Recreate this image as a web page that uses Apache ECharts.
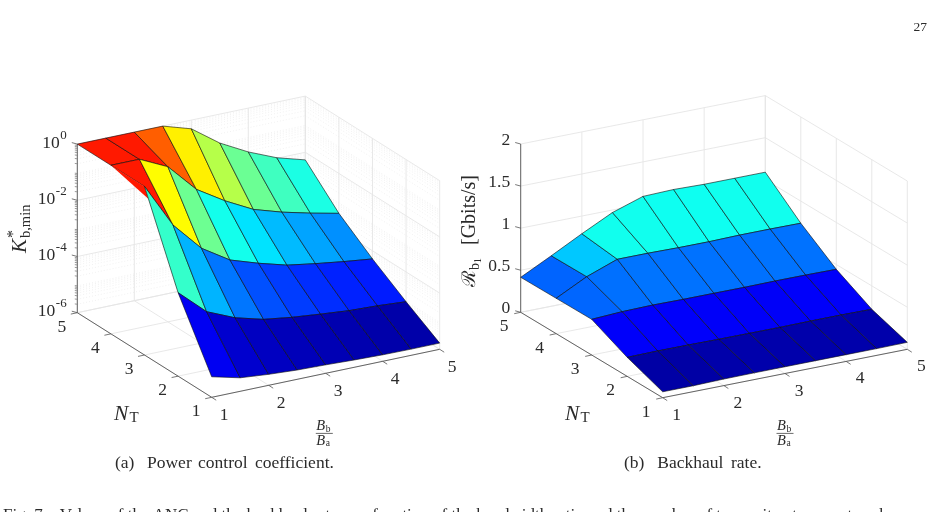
<!DOCTYPE html>
<html>
<head>
<meta charset="utf-8">
<title>Power control coefficient and backhaul rate</title>
<style>html,body{margin:0;padding:0;background:#fff}#c{width:933px;height:512px}</style>
<script src="https://cdn.jsdelivr.net/npm/echarts@6/dist/echarts.min.js"></script>
</head>
<body>
<div id="c"></div>
<script>
// Sweep grid shared by both surfaces
const bandwidthRatio = [1, 1.5, 2, 2.5, 3, 3.5, 4, 4.5, 5];
const transmitAntennas = [1, 2, 3, 4, 5];
const axisTicks = [1, 2, 3, 4, 5];

// log10 of the power control coefficient, one list per antenna count
const logK_nt1 = [-5.27, -5.52, -5.61, -5.67, -5.70, -5.74, -5.77, -5.78, -5.78];
const logK_nt2 = [-3.03, -3.92, -4.35, -4.62, -4.76, -4.86, -4.95, -4.99, -5.06];
const logK_nt3 = [0, -1.59, -2.63, -3.26, -3.59, -3.87, -4.03, -4.17, -4.29];
const logK_nt4 = [0, 0, -0.48, -1.50, -2.12, -2.64, -2.95, -3.20, -3.42];
const logK_nt5 = [0, 0, 0, 0, -0.31, -1.03, -1.56, -1.98, -2.27];
// Where the first column folds under the surface: [ratio, antennas, log10 K]
const logK_fold = [[1, 4, 0], [1, 3, 0], [1, 2.88, -0.36]];
const logK_ticks = [-6, -4, -2, 0];

// Backhaul rate in Gbits/s, one list per antenna count
const rate_nt1 = [0.07, 0.07, 0.078, 0.08, 0.08, 0.08, 0.08, 0.08, 0.083];
const rate_nt2 = [0.226, 0.23, 0.229, 0.225, 0.224, 0.223, 0.226, 0.226, 0.222];
const rate_nt3 = [0.424, 0.443, 0.45, 0.446, 0.446, 0.445, 0.448, 0.447, 0.443];
const rate_nt4 = [0.42, 0.605, 0.74, 0.74, 0.734, 0.733, 0.74, 0.74, 0.737];
const rate_nt5 = [0.416, 0.60, 0.79, 0.97, 1.09, 1.10, 1.09, 1.09, 1.09];
const rate_ticks = [0, 0.5, 1, 1.5, 2];

const SERIF = '"Liberation Serif","Times New Roman",serif';
const INK = '#2b2b2b';
const AXIS = '#555555';
const GRID = '#e5e5e5';

// Oblique view of each box: floor corner at (1, 1), one step along each sweep axis, height scale
const panelA = {
  origin: [211.7, 397.3], stepRatio: [57, -12], stepAnt: [-33.6, -21.15],
  zMin: -6, zMax: 0, zScale: 28.1, cLim: [-6.07, 1.07],
  rows: [logK_nt1, logK_nt2, logK_nt3, logK_nt4, logK_nt5], zTicks: logK_ticks, logScale: true
};
const panelB = {
  origin: [662.7, 397.7], stepRatio: [61.15, -12.1], stepAnt: [-35.5, -21.35],
  zMin: 0, zMax: 2, zScale: 84.15, cLim: [0, 1.887],
  rows: [rate_nt1, rate_nt2, rate_nt3, rate_nt4, rate_nt5], zTicks: rate_ticks, logScale: false
};

function project(p, ratio, ant, z) {
  return [
    p.origin[0] + (ratio - 1) * p.stepRatio[0] + (ant - 1) * p.stepAnt[0],
    p.origin[1] + (ratio - 1) * p.stepRatio[1] + (ant - 1) * p.stepAnt[1] - (z - p.zMin) * p.zScale
  ];
}

// Jet colormap lookup
function jet(v, lim) {
  const l = Math.min(1, Math.max(0, (v - lim[0]) / (lim[1] - lim[0])));
  const c = x => Math.round(255 * Math.min(1, Math.max(0, x)));
  return 'rgb(' + c(Math.min(4 * l - 1.5, -4 * l + 4.5)) + ',' +
    c(Math.min(4 * l - 0.5, -4 * l + 3.5)) + ',' + c(Math.min(4 * l + 0.5, -4 * l + 2.5)) + ')';
}

function txt(x, y, text, size, opts) {
  opts = opts || {};
  return {
    type: 'text', x: x, y: y, silent: true,
    style: {
      text: text, fill: INK, textAlign: opts.align || 'left', textVerticalAlign: 'middle',
      font: (opts.italic ? 'italic ' : '') + size + 'px ' + (opts.family || SERIF)
    }
  };
}

function line(a, b, color, width, dash) {
  return {
    type: 'line', silent: true,
    shape: { x1: a[0], y1: a[1], x2: b[0], y2: b[1] },
    style: { stroke: color, lineWidth: width, lineDash: dash || null, fill: null }
  };
}

// Walls, floor, axes and ticks of one box
function frameElements(p, api) {
  const at = (r, n, z) => api.coord(project(p, r, n, z));
  const els = [];
  const rMin = 1, rMax = 5, nMin = 1, nMax = 5;
  const top = p.zMax, low = p.zMin;

  if (p.logScale) {
    for (let d = low; d < top; d++) {
      for (let m = 2; m <= 9; m++) {
        const z = d + Math.log10(m);
        els.push(line(at(rMin, nMax, z), at(rMax, nMax, z), '#e2e2e2', 0.5, [1, 2]));
        els.push(line(at(rMax, nMax, z), at(rMax, nMin, z), '#e2e2e2', 0.5, [1, 2]));
        els.push(line(at(rMin, nMax, z), [at(rMin, nMax, z)[0] - 2.5, at(rMin, nMax, z)[1] - 0.3], AXIS, 0.6));
      }
    }
  }
  axisTicks.forEach(t => {
    els.push(line(at(t, nMin, low), at(t, nMax, low), GRID, 0.9));
    els.push(line(at(rMin, t, low), at(rMax, t, low), GRID, 0.9));
    els.push(line(at(t, nMax, low), at(t, nMax, top), GRID, 0.9));
    els.push(line(at(rMax, t, low), at(rMax, t, top), GRID, 0.9));
  });
  p.zTicks.forEach(z => {
    els.push(line(at(rMin, nMax, z), at(rMax, nMax, z), GRID, 0.9));
    els.push(line(at(rMax, nMax, z), at(rMax, nMin, z), GRID, 0.9));
    const a = at(rMin, nMax, z);
    els.push(line(a, [a[0] - 5.5, a[1] - 1.5], AXIS, 0.8));
  });
  els.push(line(at(rMin, nMax, low), at(rMin, nMax, top), AXIS, 0.9));
  els.push(line(at(rMin, nMax, low), at(rMin, nMin, low), AXIS, 0.9));
  els.push(line(at(rMin, nMin, low), at(rMax, nMin, low), AXIS, 0.9));
  axisTicks.forEach(t => {
    const a = at(rMin, t, low);
    els.push(line(a, [a[0] - 6.5, a[1] + 1.4], AXIS, 0.8));
    const b = at(t, nMin, low);
    els.push(line(b, [b[0] + 4.5, b[1] + 2.9], AXIS, 0.8));
  });
  return els;
}

// Tick digits sit at a fixed offset from the tick they annotate
function tickLabels(p, api, antOffset, ratioOffset) {
  const els = [];
  axisTicks.forEach(t => {
    const a = api.coord(project(p, 1, t, p.zMin));
    els.push(txt(a[0] + antOffset[0], a[1] + antOffset[1], String(t), 17.5, { align: 'center' }));
    const b = api.coord(project(p, t, 1, p.zMin));
    els.push(txt(b[0] + ratioOffset[0], b[1] + ratioOffset[1], String(t), 17.5, { align: 'center' }));
  });
  return els;
}

function ratioFraction(cx) {
  return [
    txt(cx - 8, 426.5, 'B', 14.5, { italic: true }),
    txt(cx + 1.5, 429, 'b', 9.5),
    line([cx - 8.5, 433.4], [cx + 8.5, 433.4], INK, 0.7),
    txt(cx - 8, 441, 'B', 14.5, { italic: true }),
    txt(cx + 1.5, 443.5, 'a', 9.5)
  ];
}

function antennaLabel(x) {
  return [
    txt(x, 414, 'N', 21.5, { italic: true }),
    txt(x + 15.5, 418, 'T', 15)
  ];
}

function renderFrameA(params, api) {
  const els = frameElements(panelA, api);
  const x0 = api.coord(project(panelA, 1, 5, 0))[0];
  panelA.zTicks.forEach(z => {
    const y = api.coord(project(panelA, 1, 5, z))[1];
    const exp = String(z);
    const right = x0 - 9.5;
    const supW = exp.length > 1 ? 12.5 : 8;
    els.push(txt(right - supW, y - 1, '10', 17.5, { align: 'right' }));
    els.push(txt(right - supW + 0.5, y - 9, exp, 13));
  });
  els.push(...tickLabels(panelA, api, [-15.5, 14.5], [12.5, 18.5]));
  els.push(...ratioFraction(324.3), ...antennaLabel(114));
  els.push({
    type: 'group', x: 20, y: 253, rotation: Math.PI / 2, silent: true,
    children: [
      txt(0, 0, 'K', 21, { italic: true }),
      txt(15, -6, '*', 16),
      txt(15, 6, 'b,min', 14.5)
    ]
  });
  els.push(
    txt(115, 463.3, '(a)', 17.5),
    txt(147, 463.3, 'Power', 17.5),
    txt(198, 463.3, 'control', 17.5),
    txt(255, 463.3, 'coefficient.', 17.5),
    txt(927, 27, '27', 13.5, { align: 'right' })
  );
  return { type: 'group', children: els };
}

function renderFrameB(params, api) {
  const els = frameElements(panelB, api);
  const x0 = api.coord(project(panelB, 1, 5, 0))[0];
  panelB.zTicks.forEach(z => {
    const y = api.coord(project(panelB, 1, 5, z))[1];
    els.push(txt(x0 - 10.5, y - 3.5, String(z), 17.5, { align: 'right' }));
  });
  els.push(...tickLabels(panelB, api, [-16.5, 14.5], [14, 17.5]));
  els.push(...ratioFraction(785), ...antennaLabel(565));
  els.push({
    type: 'group', x: 470, y: 287, rotation: Math.PI / 2, silent: true,
    children: [
      txt(0, 0, '\u211B', 19, { family: '"DejaVu Serif",serif' }),
      txt(17, 5, 'b', 14),
      txt(24, 8.5, '1', 9.5),
      txt(42, 0, '[Gbits/s]', 20)
    ]
  });
  els.push(
    txt(624, 463.3, '(b)', 17.5),
    txt(657.3, 463.3, 'Backhaul', 17.5),
    txt(731, 463.3, 'rate.', 17.5)
  );
  return { type: 'group', children: els };
}

// One quadrilateral per data item; colour follows the lower-antenna corner of the cell
function facetData(p) {
  const items = [];
  for (let n = p.rows.length - 2; n >= 0; n--) {
    for (let i = 0; i < bandwidthRatio.length - 1; i++) items.push([n, i]);
  }
  return items;
}

function facetRenderer(p) {
  return function (params, api) {
    const n = api.value(0), i = api.value(1);
    const corner = (a, b) => api.coord(project(p, bandwidthRatio[b], transmitAntennas[a], p.rows[a][b]));
    return {
      type: 'polygon', silent: true,
      shape: { points: [corner(n + 1, i), corner(n + 1, i + 1), corner(n, i + 1), corner(n, i)] },
      style: { fill: jet(p.rows[n][i], p.cLim), stroke: '#0c0c0c', lineWidth: 0.6, lineJoin: 'round' }
    };
  };
}

function renderFold(params, api) {
  return {
    type: 'polygon', silent: true,
    shape: { points: logK_fold.map(q => api.coord(project(panelA, q[0], q[1], q[2]))) },
    style: { fill: jet(logK_fold[0][2], panelA.cLim) }
  };
}

function customSeries(data, renderItem, z) {
  return {
    type: 'custom', coordinateSystem: 'cartesian2d', data: data, renderItem: renderItem,
    clip: false, silent: true, animation: false, z: z
  };
}

// Upper cells first, then the fold, then the lower cells painted over it
const facetsA = facetData(panelA);
const chart = echarts.init(document.getElementById('c'), null, { renderer: 'canvas' });
chart.setOption({
  animation: false,
  backgroundColor: '#ffffff',
  grid: { left: 0, right: 0, top: 0, bottom: 0 },
  xAxis: { type: 'value', min: 0, max: 933, show: false },
  yAxis: { type: 'value', min: 0, max: 512, inverse: true, show: false },
  tooltip: { show: false },
  series: [
    customSeries([[0]], renderFrameA, 1),
    customSeries([[0]], renderFrameB, 1),
    customSeries(facetsA.filter(f => f[0] >= 2), facetRenderer(panelA), 2),
    customSeries([[0]], renderFold, 3),
    customSeries(facetsA.filter(f => f[0] < 2), facetRenderer(panelA), 4),
    customSeries(facetData(panelB), facetRenderer(panelB), 2),
    customSeries([[0]], function () {
      return txt(3, 515.5, 'Fig. 7.   Values of the ANC and the backhaul rate as a function of the bandwidth ratio and the number of transmit antennas at each', 17);
    }, 1)
  ]
});
</script>
</body>
</html>
